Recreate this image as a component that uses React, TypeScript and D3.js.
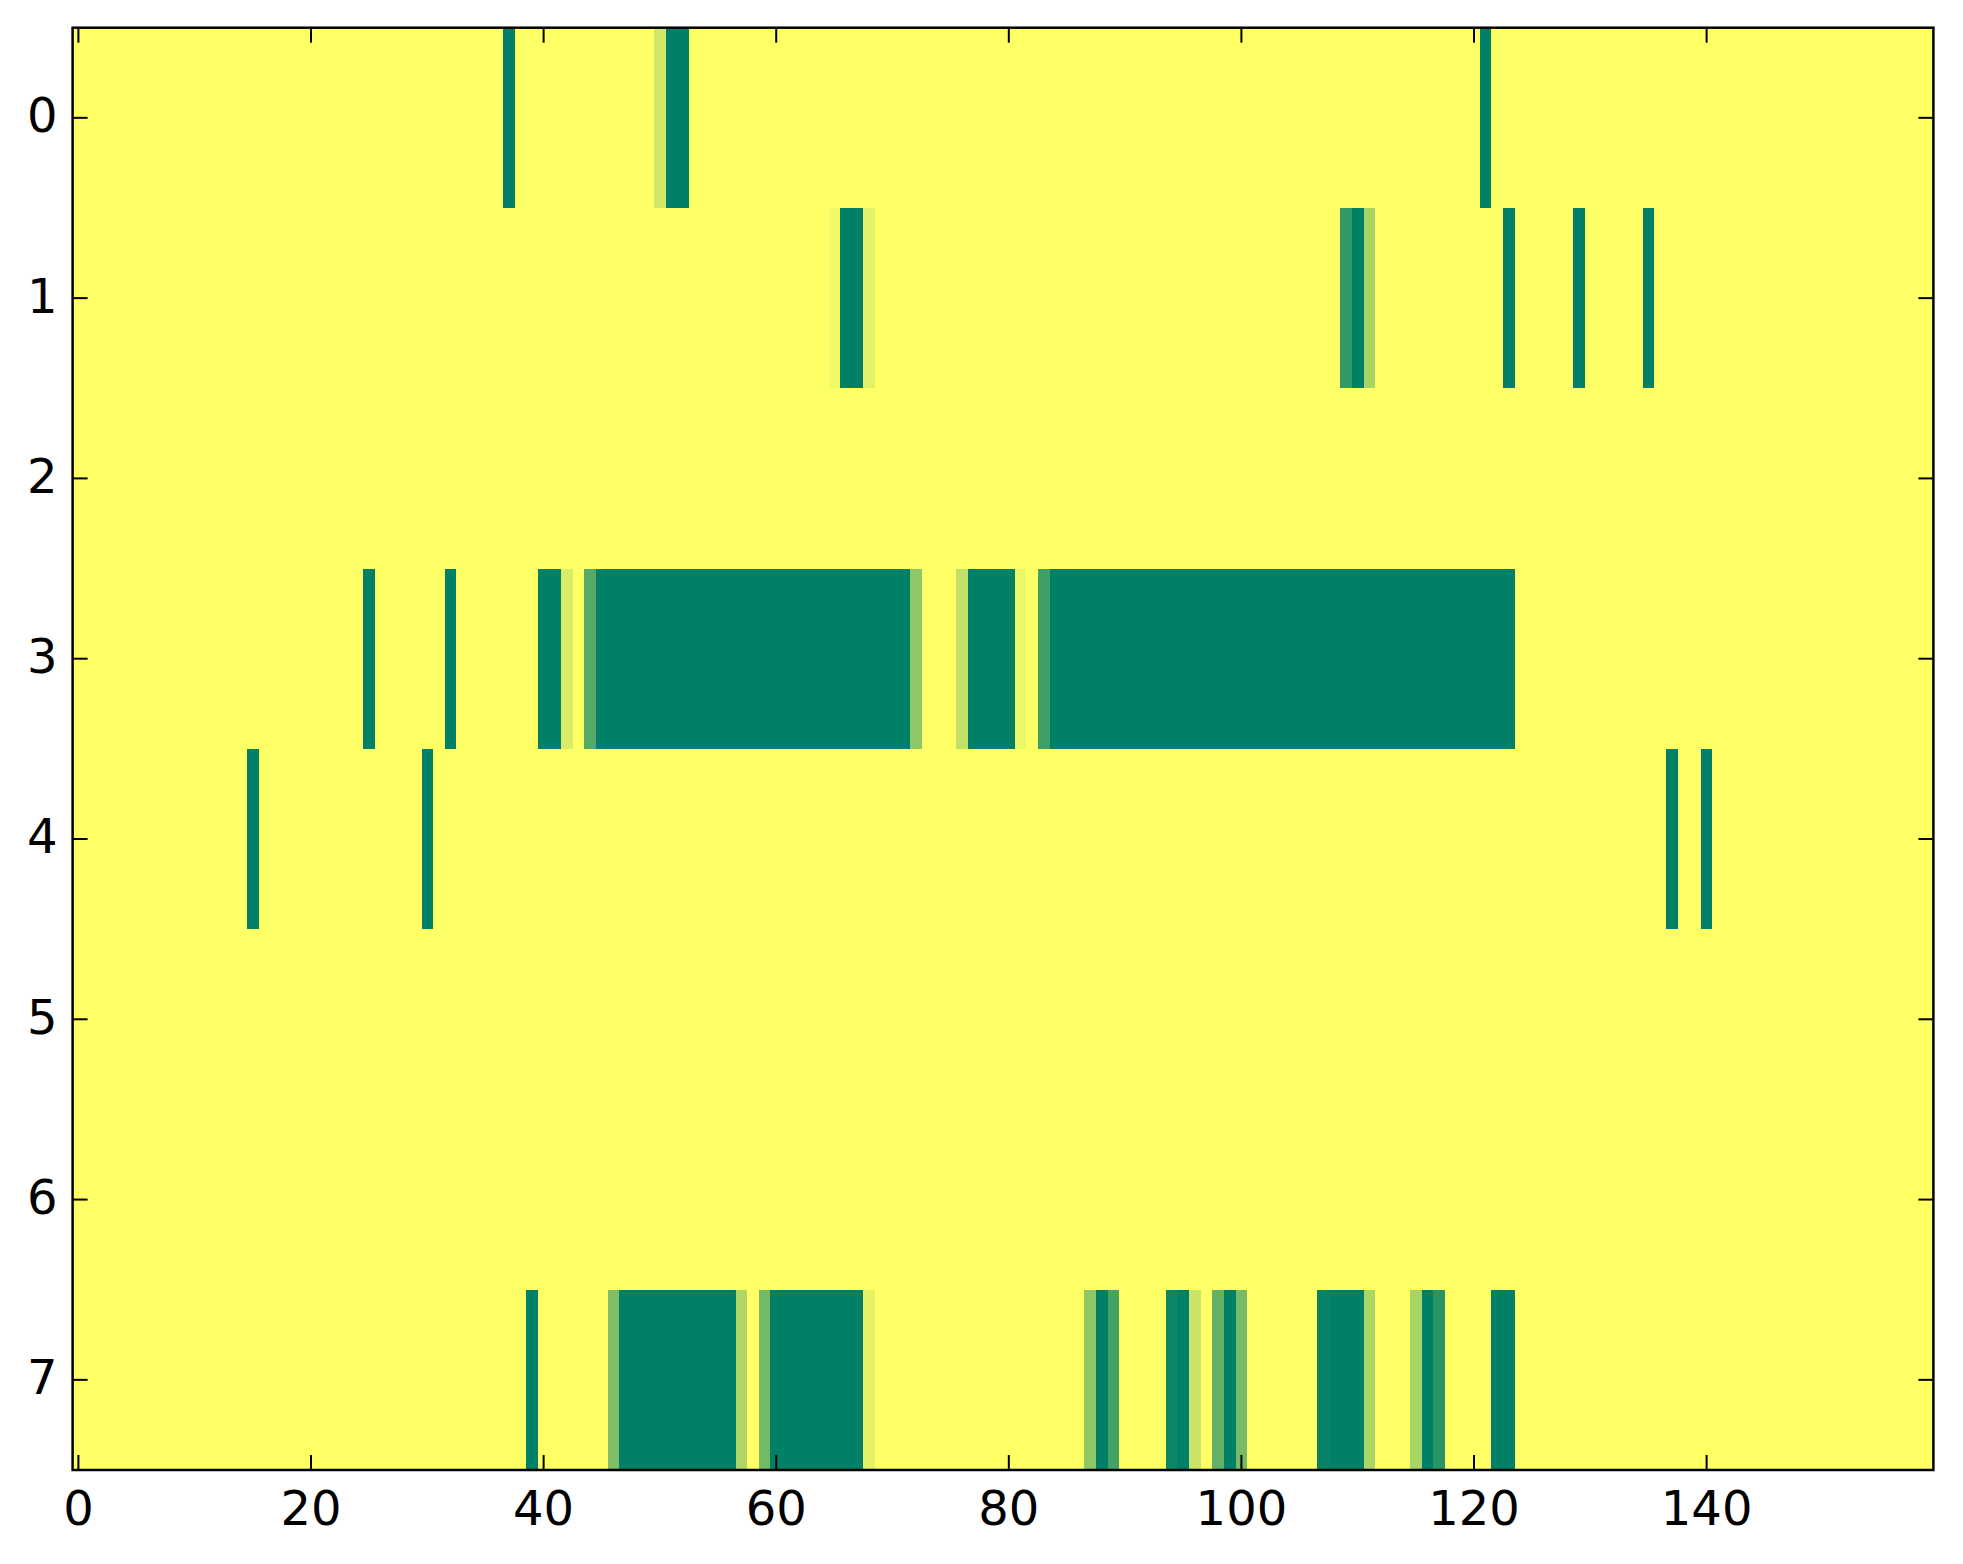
import { useEffect, useRef } from "react";
import * as d3 from "d3";

// Heatmap rows: runs of [startCol, endCol, value] (value 0 = yellow, 1 = green)
const nCols = 160;
const rowLabels = ["0", "1", "2", "3", "4", "5", "6", "7"];
const xTicks = [0, 20, 40, 60, 80, 100, 120, 140];

const row0 = [[37, 37, 1], [50, 50, 0.18], [51, 52, 1], [121, 121, 1]];
const row1 = [
  [65, 65, 0.05], [66, 67, 1], [68, 68, 0.11], [109, 109, 0.8], [110, 110, 1],
  [111, 111, 0.34], [123, 123, 1], [129, 129, 1], [135, 135, 1],
];
const row2: number[][] = [];
const row3 = [
  [25, 25, 1], [32, 32, 1], [40, 41, 1], [42, 42, 0.15], [44, 44, 0.67],
  [45, 71, 1], [72, 72, 0.44], [76, 76, 0.24], [77, 80, 1], [81, 81, 0.07],
  [83, 83, 0.75], [84, 123, 1],
];
const row4 = [[15, 15, 1], [30, 30, 1], [137, 137, 1], [140, 140, 1]];
const row5: number[][] = [];
const row6: number[][] = [];
const row7 = [
  [39, 39, 1], [46, 46, 0.51], [47, 56, 1], [57, 57, 0.31], [59, 59, 0.55],
  [60, 67, 1], [68, 68, 0.1], [87, 87, 0.44], [88, 88, 1], [89, 89, 0.73],
  [94, 94, 0.95], [95, 95, 1], [96, 96, 0.21], [98, 98, 0.61], [99, 99, 1],
  [100, 100, 0.53], [107, 107, 0.97], [108, 110, 1], [111, 111, 0.33],
  [115, 115, 0.34], [116, 116, 1], [117, 117, 0.84], [122, 123, 1],
];
const rows = [row0, row1, row2, row3, row4, row5, row6, row7];

// matplotlib "summer_r"
const summerR = (v: number) => {
  const r = Math.round(255 * (1 - v));
  const g = Math.round(255 * (1 - v / 2));
  return `rgb(${r},${g},102)`;
};

export default function App() {
  const svgRef = useRef<SVGSVGElement>(null);

  useEffect(() => {
    if (!svgRef.current) return;
    const svg = d3.select(svgRef.current);
    svg.selectAll("*").remove();

    const left = 72.6;
    const right = 1933.4;
    const top = 27.7;
    const bottom = 1470;
    const tickLen = 15;
    const font = "DejaVu Sans";

    const x = d3.scaleLinear().domain([-0.5, nCols - 0.5]).range([left, right]);
    const y = d3.scaleLinear().domain([-0.5, rows.length - 0.5]).range([top, bottom]);

    // expand runs into cells
    const cells: { r: number; c: number; v: number }[] = [];
    rows.forEach((runs, r) => {
      const vals = new Array(nCols).fill(0);
      runs.forEach(([s, e, v]) => {
        for (let c = s; c <= e; c++) vals[c] = v;
      });
      vals.forEach((v, c) => cells.push({ r, c, v }));
    });

    svg
      .append("g")
      .attr("shape-rendering", "crispEdges")
      .selectAll("rect")
      .data(cells)
      .join("rect")
      .attr("x", (d) => x(d.c - 0.5))
      .attr("y", (d) => y(d.r - 0.5))
      .attr("width", (d) => x(d.c + 0.5) - x(d.c - 0.5) + 0.5)
      .attr("height", (d) => y(d.r + 0.5) - y(d.r - 0.5) + 0.5)
      .attr("fill", (d) => summerR(d.v));

    const ticks = svg.append("g").attr("stroke", "#000").attr("stroke-width", 2);

    // x ticks, inward on bottom and top
    xTicks.forEach((t) => {
      ticks.append("line").attr("x1", x(t)).attr("x2", x(t)).attr("y1", bottom).attr("y2", bottom - tickLen);
      ticks.append("line").attr("x1", x(t)).attr("x2", x(t)).attr("y1", top).attr("y2", top + tickLen);
    });
    // y ticks, inward on left and right
    rowLabels.forEach((_, i) => {
      ticks.append("line").attr("x1", left).attr("x2", left + tickLen).attr("y1", y(i)).attr("y2", y(i));
      ticks.append("line").attr("x1", right).attr("x2", right - tickLen).attr("y1", y(i)).attr("y2", y(i));
    });

    // frame
    svg
      .append("rect")
      .attr("x", left)
      .attr("y", top)
      .attr("width", right - left)
      .attr("height", bottom - top)
      .attr("fill", "none")
      .attr("stroke", "#000")
      .attr("stroke-width", 2.5);

    // tick labels
    svg
      .append("g")
      .selectAll("text")
      .data(xTicks)
      .join("text")
      .attr("x", (d) => x(d))
      .attr("y", bottom + 55)
      .attr("text-anchor", "middle")
      .attr("font-family", font)
      .attr("font-size", 48)
      .text((d) => d);

    svg
      .append("g")
      .selectAll("text")
      .data(rowLabels)
      .join("text")
      .attr("x", left - 15)
      .attr("y", (_, i) => y(i) + 14.5)
      .attr("text-anchor", "end")
      .attr("font-family", font)
      .attr("font-size", 48)
      .text((d) => d);
  }, []);

  return (
    <svg
      ref={svgRef}
      width="1963"
      height="1564"
      style={{ position: "absolute", top: 0, left: 0, background: "#fff" }}
    ></svg>
  );
}
